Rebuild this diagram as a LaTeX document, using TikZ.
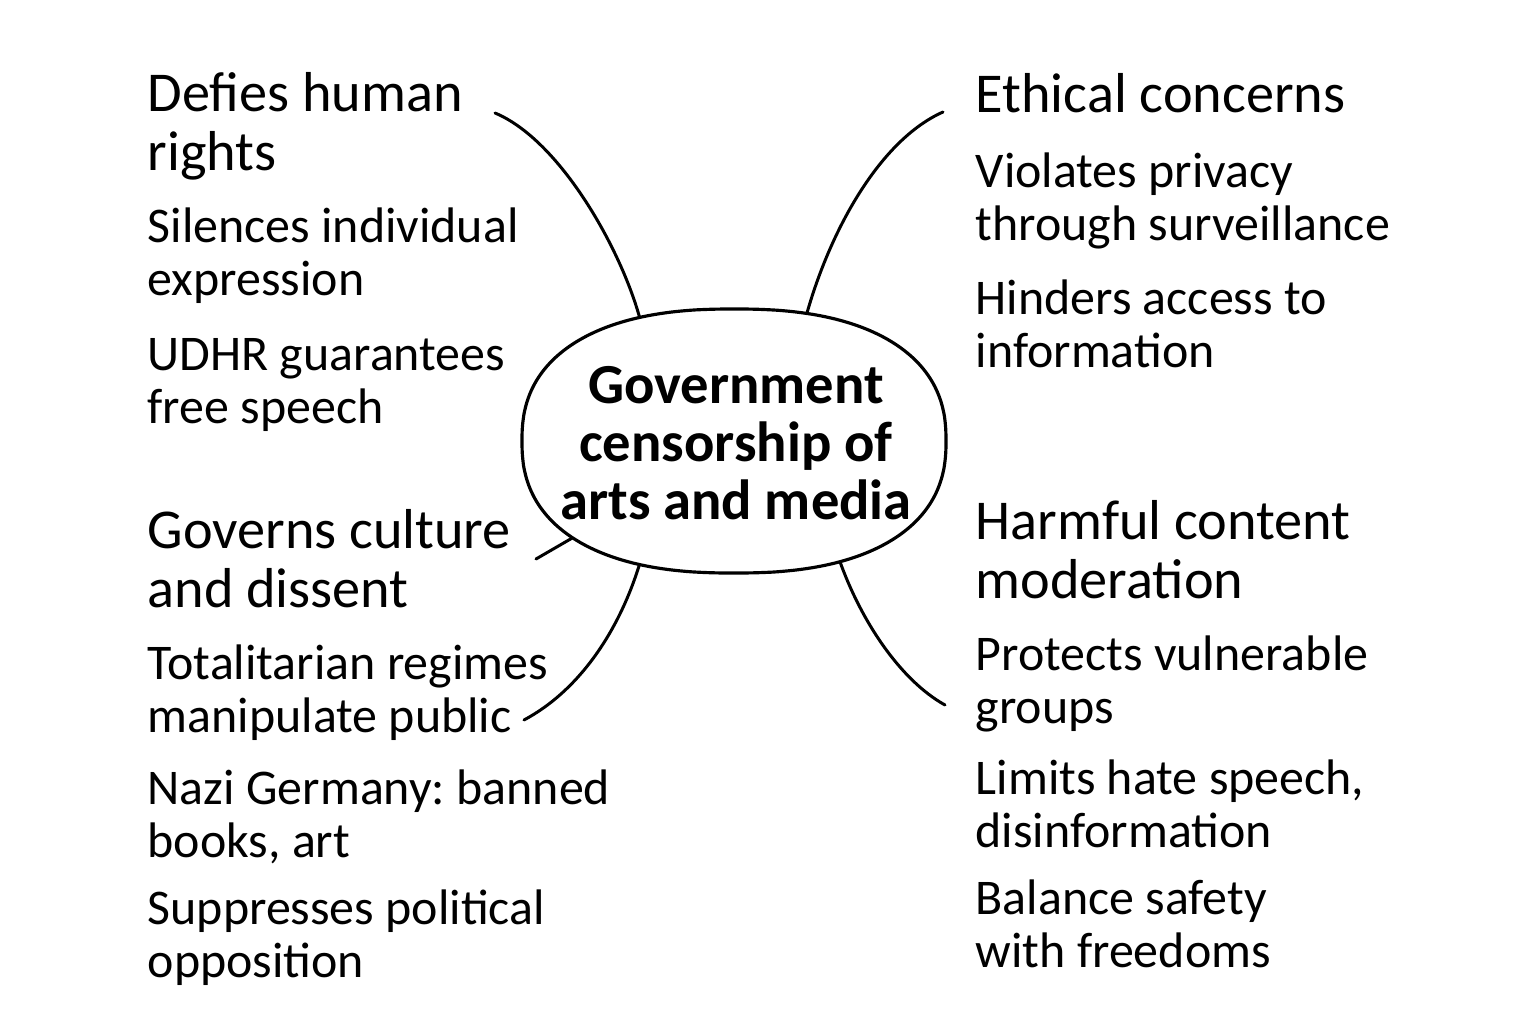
\documentclass[tikz,border=0pt]{standalone}
\usepackage{fontspec}
\setmainfont{Carlito}
\usetikzlibrary{shapes.geometric}
\frenchspacing

\begin{document}
\begin{tikzpicture}[x=0.01cm, y=-0.01cm,
        topic/.style={ellipse, inner sep=0pt, minimum width=4.24cm, minimum height=2.64cm},
        topicline/.style={draw, fill=white, line width=0.9pt, line join=round},
        topictext/.style={anchor=base, inner sep=0pt, align=center,
            font=\bfseries\fontsize{16.1}{16.4}\selectfont},
        head/.style={anchor=base west, inner sep=0pt, align=left, font=\fontsize{16}{16.6}\selectfont},
        item/.style={anchor=base west, inner sep=0pt, align=left, font=\fontsize{14.2}{14.8}\selectfont},
        branch/.style={line width=0.85pt, line cap=round}]
    \useasboundingbox (0,0) rectangle (1536,1024);

    \node[topic] (c) at (734,441) {};

    % left side (positions are baselines of the last line)
    \node[head] (rights) at (147,170) {Defies human\\rights};
    \node[item] (silence) at (147,295) {Silences individual\\expression};
    \node[item] (udhr) at (147,423) {UDHR guarantees\\free speech};
    \node[head] (culture) at (147,607) {Governs culture\\and dissent};
    \node[item] (regimes) at (147,732) {Totalitarian regimes\\manipulate public};
    \node[item] (nazi) at (147,857) {Nazi Germany: banned\\books, art};
    \node[item] (oppose) at (147,977) {Suppresses political\\opposition};

    % right side
    \node[head] (ethics) at (975,112) {Ethical concerns};
    \node[item] (privacy) at (975,240) {Violates privacy\\through surveillance};
    \node[item] (access) at (975,367) {Hinders access to\\information};
    \node[head] (harm) at (975,598) {Harmful content\\moderation};
    \node[item] (protect) at (975,723) {Protects vulnerable\\groups};
    \node[item] (hate) at (975,847) {Limits hate speech,\\disinformation};
    \node[item] (balance) at (975,967) {Balance safety\\with freedoms};

    % free ends of the branches
    \coordinate (rights-end) at (495,113);
    \coordinate (ethics-end) at (943,112);
    \coordinate (culture-end) at (536,559);
    \coordinate (regimes-end) at (524,720);
    \coordinate (harm-end) at (945,705);

    \draw[branch] (c.128) .. controls (622,250) and (560,140) .. (rights-end);
    \draw[branch] (c.60) .. controls (830,230) and (880,140) .. (ethics-end);
    \draw[branch] (c.211) -- (culture-end);
    \draw[branch] (c.232) .. controls (620,630) and (580,690) .. (regimes-end);
    \draw[branch] (c.312) .. controls (860,620) and (900,680) .. (harm-end);

    % the rounded outline of the central topic
    \draw[topicline] plot[smooth cycle, domain=0.5:358.5, samples=180]
        ({734+212*sign(cos(\x))*abs(cos(\x))^0.84}, {441+132*sign(sin(\x))*abs(sin(\x))^0.84});
    \node[topictext] (c-text) at (736,519) {Government\\censorship of\\arts and media};
\end{tikzpicture}
\end{document}
